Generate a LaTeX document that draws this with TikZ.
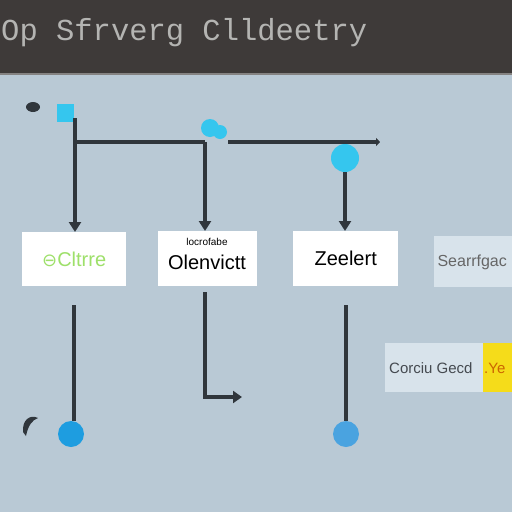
\documentclass[tikz,border=0pt]{standalone}
\usepackage{fontspec}
\setmainfont{Liberation Sans}
\newfontfamily\titlefont{Liberation Mono}
\newfontfamily\symfont{DejaVu Sans}
\usetikzlibrary{arrows.meta}
\definecolor{bg}{HTML}{B9C9D5}
\definecolor{hdr}{HTML}{3E3A39}
\definecolor{ttl}{HTML}{B4B4B2}
\definecolor{ln}{HTML}{30363C}
\definecolor{cy}{HTML}{35C6EE}
\definecolor{bl}{HTML}{1E9DE0}
\definecolor{bl2}{HTML}{4AA3E0}
\definecolor{grn}{HTML}{9EE06A}
\definecolor{pale}{HTML}{D8E3EB}
\definecolor{yel}{HTML}{F5DC1A}
\tikzset{
  conn/.style={draw=ln,line width=4pt},
  arr/.style={conn,-{Triangle[length=10pt,width=12pt]}},
  wbox/.style={fill=white,inner sep=0pt,minimum height=54pt,anchor=north west},
  pbox/.style={fill=pale,inner sep=0pt,anchor=north west},
  dot/.style={circle,inner sep=0pt,minimum size=26pt},
  btxt/.style={font=\fontsize{20}{22}\selectfont}
}
\begin{document}
\begin{tikzpicture}[x=1pt,y=-1pt]
\useasboundingbox (0,0) rectangle (512,512);
\fill[bg] (0,0) rectangle (512,512);
\fill[hdr] (0,0) rectangle (512,73);
\fill[ttl!60!hdr] (0,73) rectangle (512,75);
\node[anchor=west,text=ttl,inner sep=0pt,font=\titlefont\fontsize{30.5}{32}\selectfont] (title) at (1,33) {Op Sfrverg Clldeetry};

% decorative blobs
\fill[ln] (33,107) ellipse (7pt and 5pt);
\fill[cy] (57,104) rectangle (74,122);
\fill[cy] (210,128) circle (9pt);
\fill[cy] (220,132) circle (7pt);
\node[dot,fill=cy,minimum size=28pt] (c3) at (345,158) {};
\fill[ln] (23,432) .. controls (22,420) and (30,414) .. (38,418) .. controls (32,420) and (28,426) .. (26,436) -- cycle;

% boxes
\node[wbox,minimum width=104pt] (b1) at (22,232) {};
\node[text=grn,btxt] (t1) at (b1.center) {{\symfont\fontsize{18}{20}\selectfont ⊖}Cltrre};
\node[wbox,minimum width=99pt,minimum height=55pt] (b2) at (158,231) {};
\node[font=\fontsize{10}{11}\selectfont] (t2a) at (207,242) {locrofabe};
\node[btxt] (t2) at (207,262) {Olenvictt};
\node[wbox,minimum width=105pt,minimum height=55pt] (b3) at (293,231) {};
\node[btxt] (t3) at (b3.center) {Zeelert};
\node[pbox,minimum width=80pt,minimum height=51pt] (b4) at (434,236) {};
\node[anchor=west,text=gray!80!black,font=\fontsize{16}{18}\selectfont] (t4) at (434,262) {Searrfgac};
\node[pbox,minimum width=98pt,minimum height=49pt] (b5) at (385,343) {};
\node[anchor=west,inner sep=0pt,text=ln!90,font=\fontsize{15}{17}\selectfont] (t5) at (389,368) {Corciu Gecd};
\node[fill=yel,inner sep=0pt,minimum width=30pt,minimum height=49pt,anchor=north west] (y5) at (483,343) {};
\node[anchor=west,inner sep=0pt,text=orange!80!black,font=\fontsize{15}{17}\selectfont] (t6) at (484,368) {.Ye};

% connectors
\coordinate (p1) at (75,118);
\coordinate (j1) at (75,142);
\coordinate (j2) at (205,142);
\coordinate (e1) at (228,142);
\coordinate (e2) at (380,142);
\draw[arr] (p1) -- (b1.north -| p1);
\draw[conn] (j1) -- (j2);
\draw[arr] (j2) -- (b2.north -| j2);
\draw[conn,-{Triangle[length=4pt,width=8pt]}] (e1) -- (e2);
\draw[arr] (c3.south) -- (b3.north -| c3);

\node[dot,fill=bl] (d1) at (71,434) {};
\node[dot,fill=bl2] (d2) at (346,434) {};
\coordinate (l1) at (74,305);
\coordinate (l3) at (346,305);
\draw[conn] (l1) -- (d1.north -| l1);
\draw[conn] (l3) -- (d2.north);
\coordinate (l2) at (205,292);
\coordinate (l2b) at (205,397);
\coordinate (l2c) at (242,397);
\draw[conn,-{Triangle[length=9pt,width=12pt]}] (l2) -- (l2b) -- (l2c);
\end{tikzpicture}
\end{document}
